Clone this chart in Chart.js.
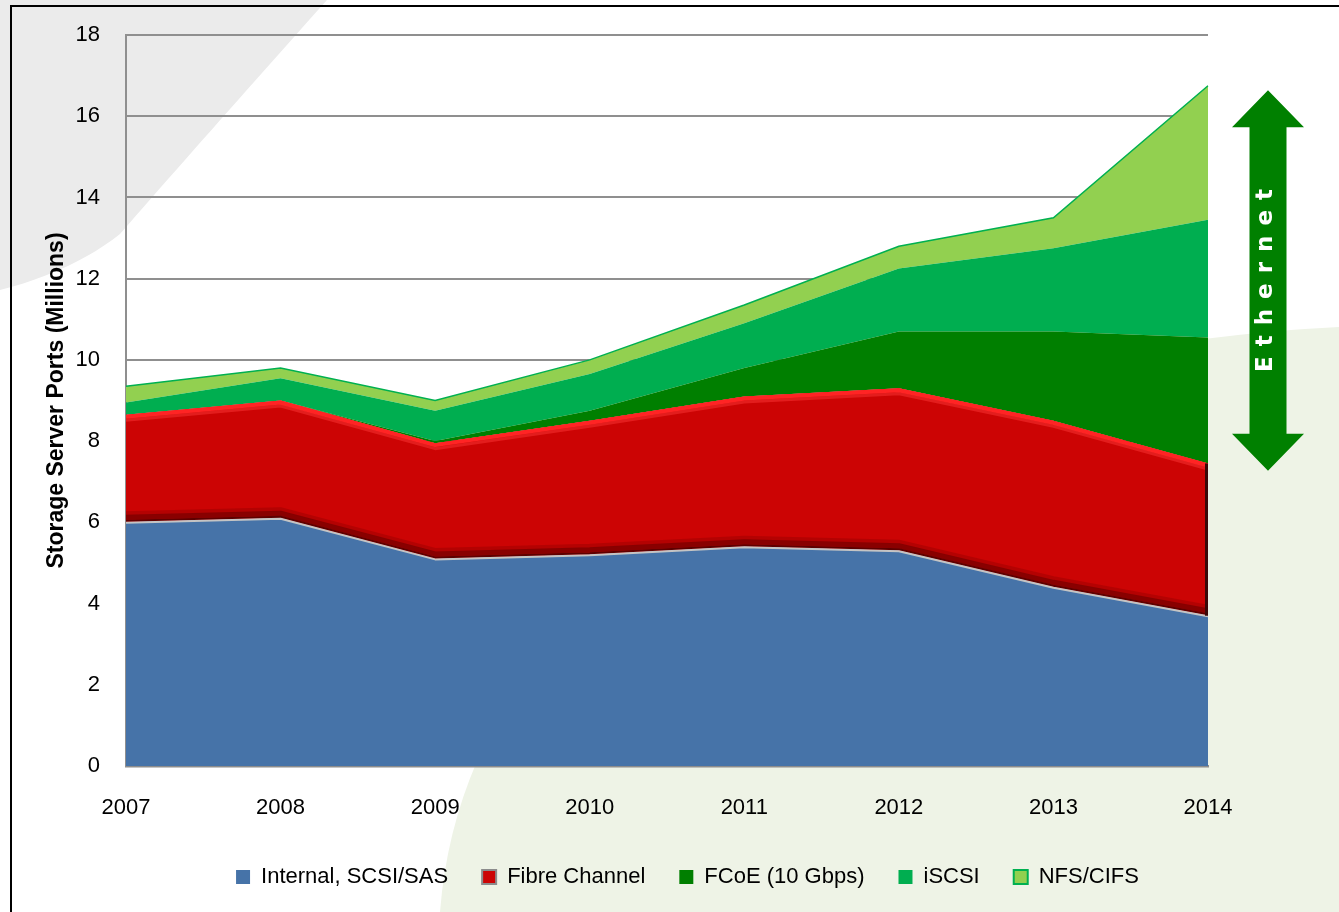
<!DOCTYPE html>
<html>
<head>
<meta charset="utf-8">
<script src="https://cdn.jsdelivr.net/npm/chart.js@4.4.0/dist/chart.umd.min.js"></script>
<style>
html, body { margin: 0; padding: 0; background: #fff; overflow: hidden; }
#wrap { position: relative; width: 1339px; height: 912px; overflow: hidden; }
#fundo { position: absolute; left: 0; top: 0; }
#moldura { position: absolute; left: 10px; top: 5px; right: -10px; bottom: -10px; border-left: 2px solid #000; border-top: 2px solid #000; }
#grafico { position: absolute; left: 0; top: 0; }
</style>
</head>
<body>
<div id="wrap">
  <svg id="fundo" width="1339" height="912">
    <path d="M0 0 L327 0 C260 75 180 165 120 234 C85 262 40 280 0 290 Z" fill="#ebebeb"/>
    <path d="M1339 327 C950 345 470 520 440 912 L1339 912 Z" fill="#eef3e6"/>
  </svg>
  <div id="moldura"></div>
  <canvas id="grafico" width="1339" height="912"></canvas>
</div>
<script>
// dados (milhões de portas)
const anos = ['2007', '2008', '2009', '2010', '2011', '2012', '2013', '2014'];
const internalSas = [6.0, 6.1, 5.1, 5.2, 5.4, 5.3, 4.4, 3.7];
const fibreChannel = [2.65, 2.9, 2.85, 3.3, 3.7, 4.0, 4.1, 3.75];
const fcoe = [0, 0, 0.05, 0.25, 0.7, 1.4, 2.2, 3.1];
const iscsi = [0.3, 0.55, 0.75, 0.9, 1.1, 1.55, 2.05, 2.9];
const nfsCifs = [0.4, 0.25, 0.25, 0.35, 0.45, 0.55, 0.75, 3.3];
const ticksY = [0, 2, 4, 6, 8, 10, 12, 14, 16, 18];
const faixaEthernet = [7.27, 16.64];

const fonte = '"Liberation Sans", Arial, sans-serif';

// desenha uma linha seguindo os pontos de um dataset
function linha(ctx, pontos, dy, cor, largura) {
  ctx.strokeStyle = cor;
  ctx.lineWidth = largura;
  ctx.lineJoin = 'round';
  ctx.beginPath();
  pontos.forEach((p, i) => {
    if (i === 0) ctx.moveTo(p.x, p.y + dy);
    else ctx.lineTo(p.x, p.y + dy);
  });
  ctx.stroke();
}

// efeito de relevo na faixa do fibre channel
const efeitoFibre = {
  id: 'efeitoFibre',
  afterDatasetsDraw(chart) {
    const { ctx, chartArea } = chart;
    const base = chart.getDatasetMeta(0).data;
    const topo = chart.getDatasetMeta(1).data;
    ctx.save();
    ctx.beginPath();
    ctx.rect(chartArea.left, chartArea.top, chartArea.width, chartArea.height);
    ctx.clip();
    linha(ctx, base, -9, 'rgba(150,0,0,0.45)', 4);
    linha(ctx, base, -5, 'rgba(125,0,0,0.85)', 5);
    linha(ctx, base, -1.5, '#5e0000', 2);
    linha(ctx, base, 0.5, '#c4c4c4', 2);
    linha(ctx, topo, 2, '#ff2424', 4);
    linha(ctx, topo, 5.5, 'rgba(255,60,60,0.45)', 3);
    const u = topo.length - 1;
    ctx.strokeStyle = '#3a0808';
    ctx.lineWidth = 4;
    ctx.beginPath();
    ctx.moveTo(topo[u].x - 1, topo[u].y);
    ctx.lineTo(base[u].x - 1, base[u].y);
    ctx.stroke();
    ctx.restore();
  }
};

// seta dupla "Ethernet"
const setaEthernet = {
  id: 'setaEthernet',
  afterDraw(chart) {
    const { ctx, chartArea, scales } = chart;
    const cx = chartArea.right + 60;
    const yTopo = scales.y.getPixelForValue(faixaEthernet[1]);
    const yBase = scales.y.getPixelForValue(faixaEthernet[0]);
    const haste = 18.5, cabeca = 36, altCab = 37;
    ctx.save();
    ctx.fillStyle = '#008000';
    ctx.beginPath();
    ctx.moveTo(cx, yTopo);
    ctx.lineTo(cx + cabeca, yTopo + altCab);
    ctx.lineTo(cx + haste, yTopo + altCab);
    ctx.lineTo(cx + haste, yBase - altCab);
    ctx.lineTo(cx + cabeca, yBase - altCab);
    ctx.lineTo(cx, yBase);
    ctx.lineTo(cx - cabeca, yBase - altCab);
    ctx.lineTo(cx - haste, yBase - altCab);
    ctx.lineTo(cx - haste, yTopo + altCab);
    ctx.lineTo(cx - cabeca, yTopo + altCab);
    ctx.closePath();
    ctx.fill();
    ctx.translate(cx, (yTopo + yBase) / 2);
    ctx.rotate(-Math.PI / 2);
    ctx.font = 'bold 23px "DejaVu Sans", sans-serif';
    ctx.letterSpacing = '10px';
    ctx.fillStyle = '#fff';
    ctx.textAlign = 'center';
    ctx.textBaseline = 'alphabetic';
    ctx.fillText('Ethernet', 5, 4);
    ctx.restore();
  }
};

const ctx = document.getElementById('grafico').getContext('2d');
new Chart(ctx, {
  type: 'line',
  data: {
    labels: anos,
    datasets: [
      { label: 'Internal, SCSI/SAS', data: internalSas, backgroundColor: '#4673a8', borderColor: 'transparent', borderWidth: 0, fill: 'origin' },
      { label: 'Fibre Channel', data: fibreChannel, backgroundColor: '#cc0404', borderColor: 'transparent', borderWidth: 0, fill: '-1' },
      { label: 'FCoE (10 Gbps)', data: fcoe, backgroundColor: '#007f00', borderColor: 'transparent', borderWidth: 0, fill: '-1' },
      { label: 'iSCSI', data: iscsi, backgroundColor: '#00ae50', borderColor: 'transparent', borderWidth: 0, fill: '-1' },
      { label: 'NFS/CIFS', data: nfsCifs, backgroundColor: '#92d050', borderColor: '#00b050', borderWidth: 1.5, fill: '-1' }
    ]
  },
  options: {
    responsive: false,
    animation: false,
    layout: { padding: { left: 36, right: 0, top: 35, bottom: 14 } },
    elements: { point: { radius: 0 }, line: { tension: 0 } },
    plugins: {
      tooltip: { enabled: false },
      legend: {
        position: 'bottom',
        labels: {
          color: '#000',
          font: { family: fonte, size: 22 },
          boxWidth: 14,
          boxHeight: 14,
          padding: 34,
          generateLabels(chart) {
            return chart.data.datasets.map((ds, i) => ({
              text: ds.label,
              fillStyle: ds.backgroundColor,
              strokeStyle: i === 1 ? '#8c8c8c' : (i === 4 ? '#00b050' : ds.backgroundColor),
              lineWidth: i === 1 || i === 4 ? 2 : 0,
              fontColor: '#000',
              datasetIndex: i,
              hidden: false
            }));
          }
        }
      }
    },
    scales: {
      x: {
        offset: false,
        grid: { display: false, drawTicks: false },
        border: { color: '#8c8c8c', width: 2.5 },
        ticks: { color: '#000', font: { family: fonte, size: 22 }, padding: 29, maxRotation: 0 },
        afterFit(scale) { scale.height = 66; }
      },
      y: {
        stacked: true,
        min: 0,
        max: 18,
        afterBuildTicks(scale) { scale.ticks = ticksY.map(v => ({ value: v })); },
        grid: { color: '#8f8f8f', lineWidth: 2, drawTicks: true, tickLength: 22, tickColor: 'transparent' },
        border: { color: '#8f8f8f', width: 2 },
        ticks: { color: '#000', font: { family: fonte, size: 22 }, padding: 4 },
        title: {
          display: true,
          text: 'Storage Server Ports (Millions)',
          color: '#000',
          font: { family: fonte, size: 23, weight: 'bold' },
          padding: { top: 7, bottom: 0 }
        },
        afterFit(scale) { scale.width = 90; }
      },
      y2: {
        position: 'right',
        display: true,
        grid: { display: false },
        border: { display: false },
        ticks: { display: false },
        afterFit(scale) { scale.width = 131; }
      }
    }
  },
  plugins: [efeitoFibre, setaEthernet]
});
</script>
</body>
</html>
